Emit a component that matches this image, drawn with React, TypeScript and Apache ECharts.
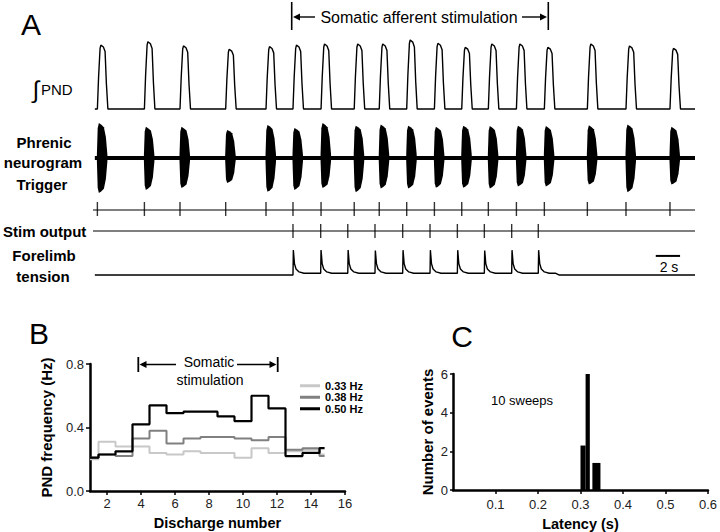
import React, { useEffect, useRef } from "react";
import * as echarts from "echarts";

// ---------- Panel A data (time in seconds) ----------
const TRACE_START = -0.1;
const TRACE_END = 49.3;
const LINE_START = -0.25;
const TRIGGER_T = [0.11, 3.98, 6.91, 10.67, 13.99, 16.21, 18.52, 21.25, 23.31, 25.57, 27.85, 30.1, 32.29, 34.6, 36.9, 40.44, 43.62, 47.24];
const STIM_T = [16.21, 18.49, 20.72, 22.96, 25.24, 27.49, 29.74, 31.96, 34.21, 36.4];
const PND_PEAK = [0.88, 0.925, 0.87, 0.825, 0.86, 0.88, 0.895, 0.895, 0.895, 0.947, 0.904, 0.851, 0.895, 0.895, 0.851, 0.895, 0.868, 0.838];
const PND_BASE = 0.04;
const NEURO_UP = [0.92, 0.82, 0.82, 0.74, 0.87, 0.79, 0.92, 0.85, 0.88, 0.85, 0.82, 0.85, 0.84, 0.85, 0.84, 0.86, 0.88, 0.82];
const NEURO_DOWN = [0.92, 0.84, 0.79, 0.66, 0.89, 0.84, 0.79, 0.9, 0.8, 0.8, 0.78, 0.78, 0.8, 0.75, 0.75, 0.7, 0.9, 0.7];
const TENSION_BASE = 0.094;
const TENSION_MID = 0.15;
const TENSION_PEAK = [0.875, 0.875, 0.875, 0.86, 0.87, 0.87, 0.87, 0.86, 0.87, 0.87];
const SCALE_BAR_T = [46.07, 48.07];

// ---------- Panel B data ----------
const DISCHARGE = [1, 2, 3, 4, 5, 6, 7, 8, 9, 10, 11, 12, 13, 14, 15];
const HZ_033 = [0.2, 0.31, 0.28, 0.28, 0.24, 0.23, 0.25, 0.24, 0.24, 0.21, 0.27, 0.24, 0.25, 0.26, 0.23];
const HZ_038 = [0.21, 0.23, 0.22, 0.33, 0.38, 0.3, 0.33, 0.34, 0.34, 0.33, 0.32, 0.34, 0.26, 0.27, 0.22];
const HZ_050 = [0.21, 0.23, 0.25, 0.42, 0.54, 0.49, 0.5, 0.5, 0.47, 0.44, 0.6, 0.52, 0.22, 0.24, 0.27];
const B_X_TICKS = [2, 4, 6, 8, 10, 12, 14, 16];
const B_X_MIN = 1;
const B_LAST_END = 14.8;

// ---------- Panel C data ----------
const LAT_BIN_START = [0.3, 0.312, 0.328];
const LAT_BIN_END = [0.312, 0.322, 0.347];
const LAT_COUNT = [2.3, 6, 1.4];

const PX_PER_S = 12.15;
const FONT = "'Liberation Sans', Arial, sans-serif";

// waveform templates (offset in px, fraction of amplitude)
const PND_SHAPE: [number, number][] = [[0, 0], [1.2, 0.5], [2.7, 0.95], [3.5, 1], [6, 0.97], [7.7, 0.9], [9, 0.4], [10.5, 0]];
const NEURO_SHAPE: [number, number][] = [[-0.5, 0.1], [0.3, 0.85], [1.5, 1], [4, 0.95], [6.5, 0.88], [8.5, 0.6], [10, 0.1]];

function buildPnd() {
  const pts: number[][] = [[TRACE_START, PND_BASE]];
  TRIGGER_T.forEach((t, i) => {
    PND_SHAPE.forEach(([dx, f]) => {
      pts.push([t + dx / PX_PER_S, PND_BASE + f * (PND_PEAK[i] - PND_BASE)]);
    });
  });
  pts.push([TRACE_END, PND_BASE]);
  return pts;
}

function buildTension() {
  const pts: number[][] = [[TRACE_START, TENSION_BASE]];
  STIM_T.forEach((s, i) => {
    const pre = i === 0 ? TENSION_BASE : TENSION_MID;
    pts.push([s, pre]);
    pts.push([s + 0.03, TENSION_PEAK[i]]);
    pts.push([s + 0.12, 0.45]);
    pts.push([s + 0.25, 0.28]);
    pts.push([s + 0.5, 0.19]);
    pts.push([s + 0.9, TENSION_MID]);
  });
  const last = STIM_T[STIM_T.length - 1];
  pts.push([last + 1.4, TENSION_MID]);
  pts.push([last + 1.7, TENSION_BASE]);
  pts.push([TRACE_END, TENSION_BASE]);
  return pts;
}

function buildStep(vals: number[]) {
  const pts: number[][] = [];
  DISCHARGE.forEach((d, i) => {
    pts.push([i === 0 ? B_X_MIN : d - 0.5, vals[i]]);
  });
  pts.push([B_LAST_END, vals[vals.length - 1]]);
  return pts;
}

export default function App() {
  const ref = useRef<HTMLDivElement>(null);
  useEffect(() => {
    if (!ref.current) return;
    const chart = echarts.init(ref.current, undefined, { renderer: "svg" });
    const gridA = (top: number, height: number) => ({ left: 92.4, width: 602.6, top, height });
    const xA = (gi: number) => ({ type: "value", gridIndex: gi, min: -0.3, max: TRACE_END, show: false });
    const yA = (gi: number, min: number, max: number) => ({ type: "value", gridIndex: gi, min, max, show: false });

    const boldLabel = (text: string, x: number, y: number, align = "center") => ({
      type: "text",
      x,
      y,
      style: { text, fill: "#000", fontFamily: FONT, fontWeight: "bold", fontSize: 15, textAlign: align, textVerticalAlign: "middle" },
    });
    const plain = (text: string, x: number, y: number, size: number, align = "center") => ({
      type: "text",
      x,
      y,
      style: { text, fill: "#000", fontFamily: FONT, fontSize: size, textAlign: align, textVerticalAlign: "middle" },
    });
    const seg = (x1: number, y1: number, x2: number, y2: number, w = 1.5) => ({
      type: "line",
      shape: { x1, y1, x2, y2 },
      style: { stroke: "#000", lineWidth: w },
    });
    const arrowHead = (x: number, y: number, dir: number) => ({
      type: "polygon",
      shape: { points: [[x, y], [x + dir * 7, y - 3.5], [x + dir * 7, y + 3.5]] },
      style: { fill: "#000" },
    });

    const option: any = {
      animation: false,
      backgroundColor: "#fff",
      textStyle: { fontFamily: FONT },
      grid: [
        gridA(36, 76),
        gridA(120, 76),
        gridA(200, 20),
        gridA(221, 20),
        gridA(246, 32),
        { left: 90, width: 255, top: 364, height: 127 },
        { left: 453, width: 261, top: 374, height: 117.5 },
      ],
      xAxis: [
        xA(0), xA(1), xA(2), xA(3), xA(4),
        {
          type: "value",
          gridIndex: 5,
          min: B_X_MIN,
          max: 16,
          name: "Discharge number",
          nameLocation: "middle",
          nameGap: 24,
          nameTextStyle: { fontFamily: FONT, fontWeight: "bold", fontSize: 14.5, color: "#000" },
          axisLine: { lineStyle: { color: "#000", width: 2.5 } },
          axisTick: { show: true, length: 4, lineStyle: { color: "#000", width: 1.5 }, customValues: B_X_TICKS },
          axisLabel: { customValues: B_X_TICKS, fontFamily: FONT, fontSize: 13, color: "#222", margin: 6 },
          splitLine: { show: false },
        },
        {
          type: "value",
          gridIndex: 6,
          min: 0,
          max: 0.6,
          interval: 0.1,
          name: "Latency (s)",
          nameLocation: "middle",
          nameGap: 26,
          nameTextStyle: { fontFamily: FONT, fontWeight: "bold", fontSize: 14.5, color: "#000" },
          axisLine: { lineStyle: { color: "#000", width: 2.5 } },
          axisTick: { show: true, length: 4, lineStyle: { color: "#000", width: 1.5 } },
          axisLabel: {
            showMinLabel: false,
            fontFamily: FONT,
            fontSize: 13,
            color: "#222",
            margin: 8,
            formatter: (v: number) => (v === 0 ? "" : v.toFixed(1)),
          },
          splitLine: { show: false },
        },
      ],
      yAxis: [
        yA(0, 0, 1),
        yA(1, -1, 1),
        yA(2, -1, 1),
        yA(3, -1, 1),
        yA(4, 0, 1),
        {
          type: "value",
          gridIndex: 5,
          min: 0,
          max: 0.8,
          interval: 0.4,
          name: "PND frequency (Hz)",
          nameLocation: "middle",
          nameGap: 36,
          nameTextStyle: { fontFamily: FONT, fontWeight: "bold", fontSize: 15, color: "#000" },
          axisLine: { lineStyle: { color: "#000", width: 2.5 } },
          axisTick: { show: true, length: 4, lineStyle: { color: "#000", width: 1.5 } },
          axisLabel: { fontFamily: FONT, fontSize: 13, color: "#222", margin: 6, formatter: (v: number) => v.toFixed(1) },
          splitLine: { show: false },
        },
        {
          type: "value",
          gridIndex: 6,
          min: 0,
          max: 6,
          interval: 2,
          name: "Number of events",
          nameLocation: "middle",
          nameGap: 18,
          nameTextStyle: { fontFamily: FONT, fontWeight: "bold", fontSize: 15, color: "#000" },
          axisLine: { lineStyle: { color: "#000", width: 2.5 } },
          axisTick: { show: true, length: 3, lineStyle: { color: "#000", width: 1.5 } },
          axisLabel: { fontFamily: FONT, fontSize: 13, color: "#222", margin: 5 },
          splitLine: { show: false },
        },
      ],
      legend: {
        orient: "vertical",
        left: 300,
        top: 380,
        icon: "rect",
        itemWidth: 20,
        itemHeight: 3,
        itemGap: 0,
        padding: 0,
        data: ["0.33 Hz", "0.38 Hz", "0.50 Hz"],
        textStyle: { fontFamily: FONT, fontWeight: "bold", fontSize: 11, color: "#000", lineHeight: 11.5 },
      },
      series: [
        {
          type: "line",
          xAxisIndex: 0,
          yAxisIndex: 0,
          data: buildPnd(),
          symbol: "none",
          lineStyle: { color: "#000", width: 1.4 },
        },
        {
          type: "line",
          xAxisIndex: 1,
          yAxisIndex: 1,
          data: [[TRACE_START, 0], [TRACE_END, 0]],
          symbol: "none",
          lineStyle: { color: "#000", width: 4 },
        },
        {
          type: "custom",
          xAxisIndex: 1,
          yAxisIndex: 1,
          data: TRIGGER_T.map((t, i) => [t, NEURO_UP[i], NEURO_DOWN[i]]),
          renderItem: (params: any, api: any) => {
            const t = api.value(0);
            const up = api.value(1);
            const dn = api.value(2);
            const top = NEURO_SHAPE.map(([dx, f]) => api.coord([t + dx / PX_PER_S, up * f]));
            const bot = NEURO_SHAPE.slice().reverse().map(([dx, f]) => api.coord([t + dx / PX_PER_S, -dn * f]));
            return { type: "polygon", shape: { points: top.concat(bot) }, style: { fill: "#000" } };
          },
        },
        {
          type: "line",
          xAxisIndex: 2,
          yAxisIndex: 2,
          data: [[LINE_START, 0], [TRACE_END, 0]],
          symbol: "none",
          lineStyle: { color: "#000", width: 1.2 },
        },
        {
          type: "scatter",
          xAxisIndex: 2,
          yAxisIndex: 2,
          data: TRIGGER_T.map((t) => [t, 0.1]),
          symbol: "rect",
          symbolSize: [1.4, 14],
          itemStyle: { color: "#000" },
        },
        {
          type: "line",
          xAxisIndex: 3,
          yAxisIndex: 3,
          data: [[LINE_START, 0], [TRACE_END, 0]],
          symbol: "none",
          lineStyle: { color: "#000", width: 1.2 },
        },
        {
          type: "scatter",
          xAxisIndex: 3,
          yAxisIndex: 3,
          data: STIM_T.map((t) => [t, 0]),
          symbol: "rect",
          symbolSize: [1.4, 14],
          itemStyle: { color: "#000" },
        },
        {
          type: "line",
          xAxisIndex: 4,
          yAxisIndex: 4,
          data: buildTension(),
          symbol: "none",
          lineStyle: { color: "#000", width: 1.4 },
        },
        {
          type: "line",
          xAxisIndex: 4,
          yAxisIndex: 4,
          data: SCALE_BAR_T.map((t) => [t, 0.69]),
          symbol: "none",
          lineStyle: { color: "#000", width: 2 },
        },
        {
          name: "0.33 Hz",
          type: "line",
          xAxisIndex: 5,
          yAxisIndex: 5,
          step: "end",
          data: buildStep(HZ_033),
          symbol: "none",
          lineStyle: { color: "#c8c8c8", width: 2 },
          itemStyle: { color: "#c8c8c8" },
        },
        {
          name: "0.38 Hz",
          type: "line",
          xAxisIndex: 5,
          yAxisIndex: 5,
          step: "end",
          data: buildStep(HZ_038),
          symbol: "none",
          lineStyle: { color: "#808080", width: 2 },
          itemStyle: { color: "#808080" },
        },
        {
          name: "0.50 Hz",
          type: "line",
          xAxisIndex: 5,
          yAxisIndex: 5,
          step: "end",
          data: buildStep(HZ_050),
          symbol: "none",
          lineStyle: { color: "#000", width: 2.2 },
          itemStyle: { color: "#000" },
        },
        {
          type: "custom",
          xAxisIndex: 6,
          yAxisIndex: 6,
          data: LAT_COUNT.map((c, i) => [LAT_BIN_START[i], LAT_BIN_END[i], c]),
          renderItem: (params: any, api: any) => {
            const p0 = api.coord([api.value(0), 0]);
            const p1 = api.coord([api.value(1), api.value(2)]);
            return {
              type: "rect",
              shape: { x: p0[0], y: p1[1], width: p1[0] - p0[0], height: p0[1] - p1[1] },
              style: { fill: "#000" },
            };
          },
        },
      ],
      graphic: [
        plain("A", 31, 24, 30),
        plain("B", 39, 333, 30),
        plain("C", 462, 336, 30),
        plain("\u222B", 36, 89, 24),
        plain("PND", 41, 89, 15, "left"),
        boldLabel("Phrenic", 44, 142),
        boldLabel("neurogram", 43, 162),
        boldLabel("Trigger", 42, 184),
        boldLabel("Stim output", 3, 231, "left"),
        boldLabel("Forelimb", 44, 255),
        boldLabel("tension", 43, 276),
        plain("2 s", 669, 267, 14),
        // Panel A stimulation annotation
        seg(291.7, 2, 291.7, 30, 1.6),
        seg(548.3, 2, 548.3, 30, 1.6),
        seg(296, 17, 315, 17, 1.4),
        arrowHead(293, 17, 1),
        seg(522, 17, 543, 17, 1.4),
        arrowHead(547, 17, -1),
        plain("Somatic afferent stimulation", 419, 17, 16),
        // Panel B stimulation annotation
        seg(138.3, 357, 138.3, 372, 1.8),
        seg(277.7, 357, 277.7, 372, 1.8),
        seg(142, 364.5, 176, 364.5, 1.4),
        arrowHead(139.5, 364.5, 1),
        seg(237, 364.5, 272, 364.5, 1.4),
        arrowHead(276.5, 364.5, -1),
        plain("Somatic", 209, 362, 14),
        plain("stimulation", 210, 380, 14),
        plain("10 sweeps", 522, 400, 13),
      ],
    };
    chart.setOption(option);
    return () => chart.dispose();
  }, []);
  return (
    <div
      ref={ref}
      style={{ position: "fixed", left: 0, top: 0, width: 720, height: 532, background: "#fff" }}
    />
  );
}
